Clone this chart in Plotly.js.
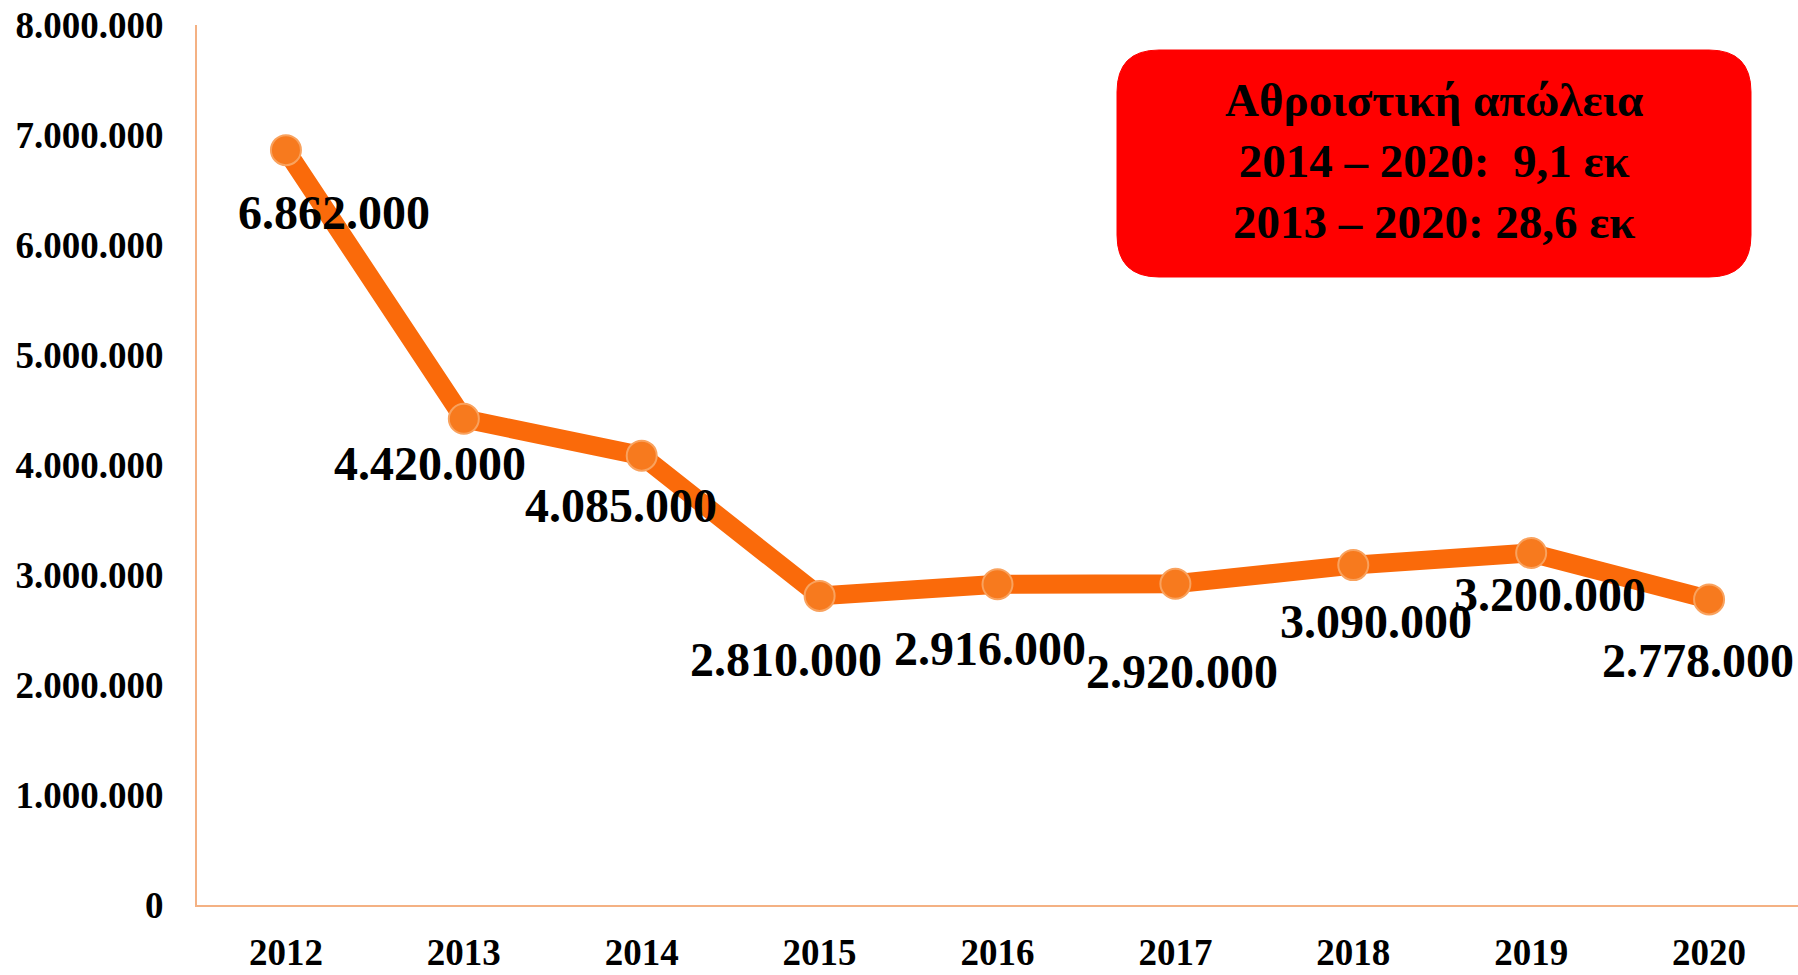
<!DOCTYPE html>
<html>
<head>
<meta charset="utf-8">
<script src="https://cdn.plot.ly/plotly-3.0.1.min.js"></script>
<style>html,body{margin:0;padding:0;background:#fff;}#chart{width:1798px;height:975px;}</style>
</head>
<body>
<div id="chart"></div>
<script>
const years = ['2012','2013','2014','2015','2016','2017','2018','2019','2020'];
const values = [6862000, 4420000, 4085000, 2810000, 2916000, 2920000, 3090000, 3200000, 2778000];
const yTicks = [0, 1000000, 2000000, 3000000, 4000000, 5000000, 6000000, 7000000, 8000000];
const boxLines = ['Αθροιστική απώλεια', '2014 – 2020:  9,1 εκ', '2013 – 2020: 28,6 εκ'];

// label offsets in pixels (style only)
const labelDx = [48, -34, -21, -34, -8, 7, 23, 19, -11];
const labelDy = [62, 45, 50, 64, 64, 88, 56, 41, 61];

const fmt = v => v.toLocaleString('de-DE');
const serif = 'Liberation Serif, Times New Roman, serif';

const W = 1798, H = 975, ml = 197, mr = 0, mt = 25, mb = 70;
const pw = W - ml - mr, ph = H - mt - mb;
const px2x = p => (p - ml) / pw;
const px2y = p => 1 - (p - mt) / ph;

const annotations = values.map((v, i) => ({
  x: i, y: v, xref: 'x', yref: 'y',
  text: '<b>' + fmt(v) + '</b>', showarrow: false,
  xanchor: 'center', yanchor: 'middle',
  xshift: labelDx[i], yshift: -labelDy[i],
  font: {family: serif, size: 48, color: '#000'}
}));

// red rounded box
const bx0 = 1117, bx1 = 1751, by0 = 50, by1 = 277, r = 42;
const X = p => px2x(p), Y = p => px2y(p);
const path = `M ${X(bx0+r)} ${Y(by0)} L ${X(bx1-r)} ${Y(by0)} Q ${X(bx1)} ${Y(by0)} ${X(bx1)} ${Y(by0+r)} ` +
  `L ${X(bx1)} ${Y(by1-r)} Q ${X(bx1)} ${Y(by1)} ${X(bx1-r)} ${Y(by1)} ` +
  `L ${X(bx0+r)} ${Y(by1)} Q ${X(bx0)} ${Y(by1)} ${X(bx0)} ${Y(by1-r)} ` +
  `L ${X(bx0)} ${Y(by0+r)} Q ${X(bx0)} ${Y(by0)} ${X(bx0+r)} ${Y(by0)} Z`;

annotations.push({
  x: X((bx0+bx1)/2), y: Y((by0+by1)/2 - 3), xref: 'paper', yref: 'paper',
  text: '<b>' + boxLines.join('<br>') + '</b>', showarrow: false,
  xanchor: 'center', yanchor: 'middle',
  font: {family: serif, size: 47, color: '#000'}
});

const trace = {
  x: years, y: values, type: 'scatter', mode: 'lines+markers',
  line: {color: '#FA6A0A', width: 19},
  marker: {size: 30, color: '#F77A1E', line: {color: '#F9A25E', width: 2}},
  hoverinfo: 'skip', cliponaxis: false
};

const layout = {
  width: W, height: H,
  margin: {l: ml, r: mr, t: mt, b: mb},
  paper_bgcolor: '#fff', plot_bgcolor: '#fff',
  showlegend: false,
  separators: ',.',
  xaxis: {
    type: 'category', range: [-0.5, 8.5],
    showline: true, linecolor: '#F4B183', linewidth: 2,
    showgrid: false, zeroline: false, ticks: '',
    ticklabelstandoff: 14,
    tickfont: {family: serif, size: 37, color: '#000', weight: 'bold'}
  },
  yaxis: {
    range: [0, 8000000], tickvals: yTicks, ticktext: yTicks.map(fmt),
    showline: true, linecolor: '#F4B183', linewidth: 2,
    showgrid: false, zeroline: false, ticks: '',
    ticklabelstandoff: 24,
    tickfont: {family: serif, size: 37, color: '#000', weight: 'bold'}
  },
  shapes: [{type: 'path', xref: 'paper', yref: 'paper', path: path,
    fillcolor: '#FF0000', line: {color: '#FF0000', width: 1}, layer: 'above'}],
  annotations: annotations
};

Plotly.newPlot('chart', [trace], layout, {displayModeBar: false, staticPlot: true});
</script>
</body>
</html>
